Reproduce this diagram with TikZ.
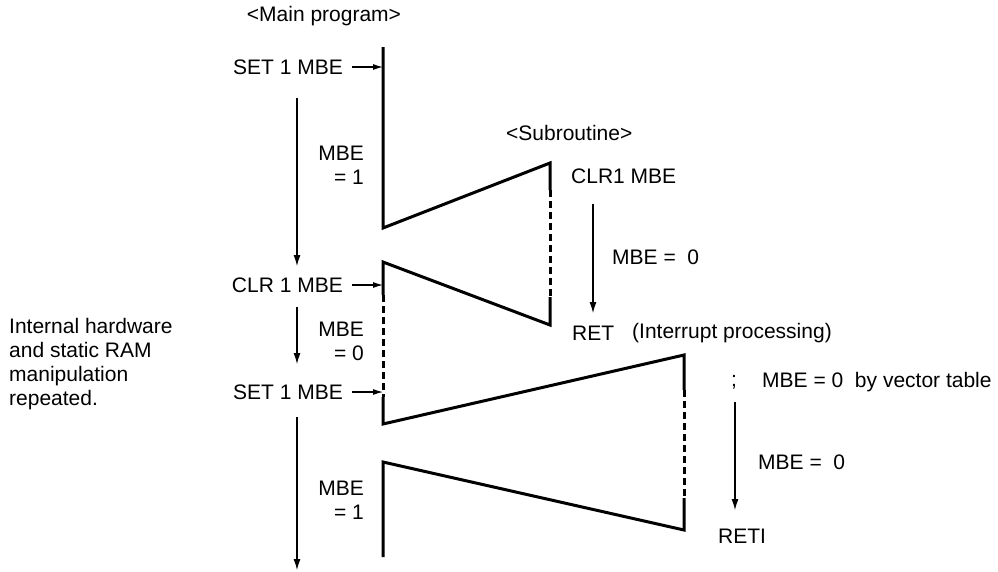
\documentclass[tikz,border=0pt]{standalone}
\usepackage{fontspec}
\setmainfont{Liberation Sans}
\usetikzlibrary{arrows.meta, positioning}

\begin{document}
\begin{tikzpicture}[x=1pt, y=-1pt, >={Latex[length=11pt,width=7pt]},
  every node/.style={font=\fontsize{21}{24}\selectfont, inner sep=0pt},
  flow/.style={line width=3pt},
  skip/.style={line width=3pt, dash pattern=on 7pt off 4pt},
  setarrow/.style={->, line width=1.1pt, >={Latex[length=10pt,width=6pt]}, shorten <=9pt},
  spanarrow/.style={->, line width=1.1pt}]

\useasboundingbox (0,0) rectangle (998,571);

% Points of the program flow
\coordinate (mtop) at (383,47);
\coordinate (m1) at (383,228);
\coordinate (sub1) at (550,163);
\coordinate (sub1a) at (550,190);
\coordinate (sub2a) at (550,297);
\coordinate (sub2) at (550,325);
\coordinate (m2) at (383,262);
\coordinate (m2a) at (383,295);
\coordinate (m3a) at (383,397);
\coordinate (m3) at (383,424);
\coordinate (int1) at (684,355);
\coordinate (int1a) at (684,390);
\coordinate (int2a) at (684,498);
\coordinate (int2) at (684,530);
\coordinate (m4) at (383,462);
\coordinate (mend) at (383,557);

% Flow lines
\draw[flow] (mtop) -- (m1) -- (sub1) -- (sub1a);
\draw[skip] (sub1a) -- (sub2a);
\draw[flow] (sub2a) -- (sub2) -- (m2) -- (m2a);
\draw[skip] (m2a) -- (m3a);
\draw[flow] (m3a) -- (m3) -- (int1) -- (int1a);
\draw[skip] (int1a) -- (int2a);
\draw[flow] (int2a) -- (int2) -- (m4) -- (mend);

% Nodes
\node (main) at (324,16) {<Main program>};
\node (set1) [anchor=east] at (343,67) {SET 1 MBE};
\node (mbe1) [anchor=east, align=right] at (364,165) {MBE\\= 1};
\node (clr1) [anchor=east] at (343,285) {CLR 1 MBE};
\node (mbe0) [anchor=east, align=right] at (364,341) {MBE\\= 0};
\node (set2) [anchor=east] at (343,392) {SET 1 MBE};
\node (mbe2) [anchor=east, align=right] at (364,500) {MBE\\= 1};
\node (note) [anchor=west, align=left] at (9,364) {Internal hardware\\and static RAM\\manipulation\\repeated.};

\node (sub) [anchor=west] at (506,133) {<Subroutine>};
\node (clrsub) [anchor=west] at (571,176) {CLR1 MBE};
\node (mbesub) [anchor=west] at (612,257) {MBE = \ 0};
\node (ret) [anchor=west] at (572,333) {RET};
\node (intp) [anchor=west] at (632,333) {(Interrupt processing)};
\node (semi) [anchor=west] at (731,382) {;};
\node (vec) [anchor=west] at (762,382) {MBE = 0 \ by vector table};
\node (mbeint) [anchor=west] at (758,462) {MBE = \ 0};
\node (reti) [anchor=west] at (718,536) {RETI};

% Arrows
\draw[setarrow] (set1.east) -- (set1.east -| mtop);
\draw[setarrow] (clr1.east) -- (clr1.east -| mtop);
\draw[setarrow] (set2.east) -- (set2.east -| mtop);

\coordinate (a1s) at (297,98);
\coordinate (a1e) at (297,266);
\coordinate (a2s) at (297,307);
\coordinate (a2e) at (297,364);
\coordinate (a3s) at (297,417);
\coordinate (a3e) at (297,570);
\draw[spanarrow] (a1s) -- (a1e);
\draw[spanarrow] (a2s) -- (a2e);
\draw[spanarrow] (a3s) -- (a3e);

\coordinate (b1s) at (593,204);
\coordinate (b1e) at (593,313);
\coordinate (b2s) at (735,402);
\coordinate (b2e) at (735,510);
\draw[spanarrow] (b1s) -- (b1e);
\draw[spanarrow] (b2s) -- (b2e);

\end{tikzpicture}
\end{document}
